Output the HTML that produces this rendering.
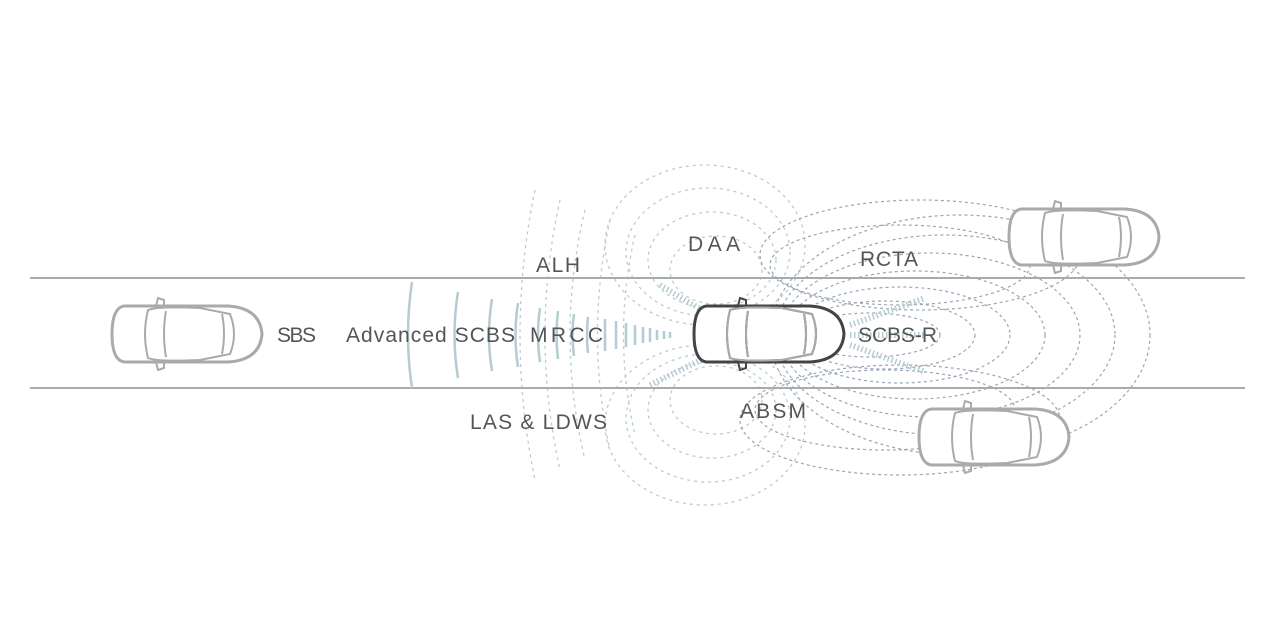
<!DOCTYPE html>
<html><head><meta charset="utf-8"><style>
html,body{margin:0;padding:0;background:#fff}
svg{display:block}
text{font-family:"Liberation Sans",sans-serif;font-size:21px;fill:#555}
</style></head><body>
<svg width="1280" height="640" viewBox="0 0 1280 640">
<defs>
<g id="car">
<path d="M14,4 L118,4 Q150,6 152,32 Q150,58 118,60 L14,60 Q2,58 2,32 Q2,6 14,4 Z" fill="#fff"/>
<path d="M14,4 L118,4 Q150,6 152,32 Q150,58 118,60 L14,60 Q2,58 2,32 Q2,6 14,4 Z" fill="none" stroke-width="3"/>
<path d="M38,8 Q48,4 90,6 L120,12 Q128,32 120,52 L90,58 Q48,60 38,56 Q32,32 38,8 Z" fill="none" stroke-width="2"/>
<path d="M56,9 Q52,32 56,55 M112,12 Q116,32 112,52" fill="none" stroke-width="2"/>
<path d="M46,4 L48,-4 L54,-2 L54,4 M46,60 L48,68 L54,66 L54,60" fill="none" stroke-width="2"/>
</g>
</defs>

<g fill="none" stroke="#b8cdd2" stroke-width="1.3" stroke-dasharray="3,4">
<path d="M535,190 Q505,335 535,480"/>
<path d="M560,200 Q530,335 560,470"/>
<path d="M585,210 Q555,335 585,460"/>
<path d="M610,220 Q585,335 610,450"/>
<path d="M635,235 Q612,335 635,435"/>
</g>
<g fill="none" stroke="#b8cdd2" stroke-width="1.3" stroke-dasharray="3,4">
<ellipse cx="705" cy="245" rx="100" ry="80"/>
<ellipse cx="708" cy="252" rx="82" ry="64"/>
<ellipse cx="712" cy="260" rx="64" ry="48"/>
<ellipse cx="716" cy="270" rx="46" ry="34"/>
<ellipse cx="705" cy="425" rx="100" ry="80"/>
<ellipse cx="708" cy="418" rx="82" ry="64"/>
<ellipse cx="712" cy="410" rx="64" ry="48"/>
<ellipse cx="716" cy="400" rx="46" ry="34"/>
</g>
<g fill="none" stroke="#9aa6b4" stroke-width="1.2" stroke-dasharray="3,3">
<ellipse cx="960" cy="335" rx="190" ry="120"/>
<ellipse cx="945" cy="335" rx="170" ry="100"/>
<ellipse cx="930" cy="335" rx="150" ry="82"/>
<ellipse cx="915" cy="335" rx="130" ry="64"/>
<ellipse cx="900" cy="335" rx="110" ry="48"/>
<ellipse cx="885" cy="335" rx="90" ry="34"/>
<ellipse cx="870" cy="335" rx="70" ry="22"/>
<ellipse cx="920" cy="255" rx="160" ry="55"/>
<ellipse cx="900" cy="265" rx="130" ry="40"/>
<ellipse cx="900" cy="420" rx="160" ry="55"/>
<ellipse cx="885" cy="410" rx="130" ry="40"/>
</g>

<line x1="30" y1="278" x2="1245" y2="278" stroke="#aaa" stroke-width="2"/>
<line x1="30" y1="388" x2="1245" y2="388" stroke="#aaa" stroke-width="2"/>

<g fill="none" stroke="#b5ccd2" stroke-width="2.5">
<path d="M412,282 Q404,335 412,388"/>
<path d="M458,292 Q451,335 458,378"/>
<path d="M492,299 Q486,335 492,371"/>
<path d="M518,303 Q513,335 518,367"/>
<path d="M540,308 Q536,335 540,362"/>
<path d="M558,311 Q555,335 558,359"/>
<path d="M574,314 Q571,335 574,356"/>
<path d="M588,317 Q586,335 588,353"/>
<path d="M605,319 L605,351"/>
<path d="M616,321 L616,349"/>
<path d="M626,323 L626,347"/>
<path d="M635,325 L635,345"/>
<path d="M643,327 L643,343"/>
<path d="M650,328 L650,342"/>
<path d="M657,330 L657,340"/>
<path d="M664,331 L664,339"/>
<path d="M670,332 L670,338"/>
</g>
<g stroke="#b5ccd2" stroke-width="6" stroke-dasharray="1.5,2.5" fill="none">
<path d="M660,285 L705,312"/>
<path d="M650,385 L705,358"/>
<path d="M850,325 L925,298"/>
<path d="M850,345 L925,372"/>
<path d="M850,335 L925,335"/>
</g>

<use href="#car" x="110" y="302" stroke="#aaa"/>
<use href="#car" x="1007" y="205" stroke="#aaa"/>
<use href="#car" x="917" y="405" stroke="#aaa"/>
<g stroke="#444"><use href="#car" x="692" y="302"/></g>
<g stroke="#aaa"><path d="M730,310 Q740,306 782,308 L812,314 Q820,334 812,354 L782,360 Q740,362 730,358 Q724,334 730,310 Z M748,311 Q744,334 748,357 M804,314 Q808,334 804,354" fill="none" stroke-width="2"/></g>

<text x="277" y="342" textLength="39">SBS</text>
<text x="346" y="342" textLength="169">Advanced SCBS</text>
<text x="530" y="342" textLength="73">MRCC</text>
<text x="536" y="272" textLength="44">ALH</text>
<text x="470" y="429" textLength="137">LAS &amp; LDWS</text>
<text x="688" y="251" textLength="52">DAA</text>
<text x="860" y="266" textLength="58">RCTA</text>
<text x="858" y="342" textLength="79">SCBS-R</text>
<text x="740" y="418" textLength="66">ABSM</text>
</svg>
</body></html>
